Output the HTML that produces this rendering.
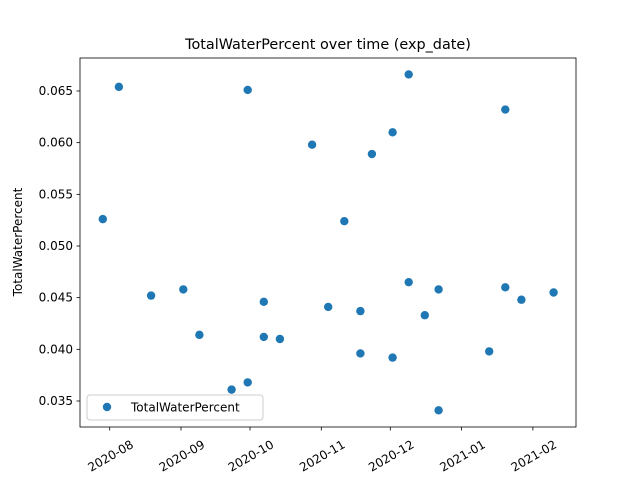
<!DOCTYPE html>
<html><head><meta charset="utf-8"><style>body{margin:0;background:#fff}svg text{font-family:"DejaVu Sans","Liberation Sans",sans-serif}</style></head>
<body>
<svg id="chart" width="640" height="480" xmlns="http://www.w3.org/2000/svg"></svg>
<script>
const dayOffsets=[-3,4,18,32,39,53,60,60,67,67,74,88,95,102,109,109,114,123,123,130,130,137,143,143,165,172,172,179,193];
const values=[0.0526,0.0654,0.0452,0.0458,0.0414,0.0361,0.0651,0.0368,0.0446,0.0412,0.0410,0.0598,0.0441,0.0524,0.0437,0.0396,0.0589,0.0610,0.0392,0.0666,0.0465,0.0433,0.0458,0.0341,0.0398,0.0632,0.0460,0.0448,0.0455];
const xTickDays=[0,31,61,92,122,153,184];
const xTickLabels=["2020-08","2020-09","2020-10","2020-11","2020-12","2021-01","2021-02"];
const yTicks=[0.035,0.040,0.045,0.050,0.055,0.060,0.065];
const NS="http://www.w3.org/2000/svg";
const svg=document.getElementById('chart');
const L=80,R=576,T=58,B=427;
const xs=d=>109.7+d*2.3;
const ys=v=>401-(v-0.035)/0.005*51.67;
function mk(t,a,p){const e=document.createElementNS(NS,t);for(const k in a)e.setAttribute(k,a[k]);(p||svg).appendChild(e);return e;}
const title=mk('text',{x:328,y:49,'text-anchor':'middle','font-size':14.4});title.textContent='TotalWaterPercent over time (exp_date)';


const yl=mk('text',{x:22,y:242,'text-anchor':'middle','font-size':12,transform:'rotate(-90 22 242)'});yl.textContent='TotalWaterPercent';


yTicks.forEach(v=>{const y=ys(v);mk('line',{x1:L-3.5,x2:L,y1:y,y2:y,stroke:'#000','stroke-width':0.8});
const t=mk('text',{x:L-7,y:y+4,'text-anchor':'end','font-size':12});t.textContent=v.toFixed(3);

});
xTickDays.forEach((d,i)=>{const x=xs(d);mk('line',{x1:x,x2:x,y1:B,y2:B+3.5,stroke:'#000','stroke-width':0.8});
const cx=x+1,cy=B+29;
const t=mk('text',{x:cx,y:cy+4,'text-anchor':'middle','font-size':12,transform:`rotate(-30 ${cx} ${cy})`});t.textContent=xTickLabels[i];

});
dayOffsets.forEach((d,i)=>{const c=mk('circle',{cx:xs(d),cy:ys(values[i]),r:4.2,fill:'#1f77b4'});

});
const fr=mk('rect',{x:L,y:T,width:R-L,height:B-T,fill:'none',stroke:'#000','stroke-width':0.8});


const lg=mk('g',{});


mk('rect',{x:87,y:395,width:176,height:25,rx:3,fill:'#fff','fill-opacity':0.8,stroke:'#ccc'},lg);
mk('circle',{cx:107,cy:407,r:4.2,fill:'#1f77b4'},lg);
const lt=mk('text',{x:131,y:411.5,'font-size':12},lg);lt.textContent='TotalWaterPercent';
</script>
</body></html>
